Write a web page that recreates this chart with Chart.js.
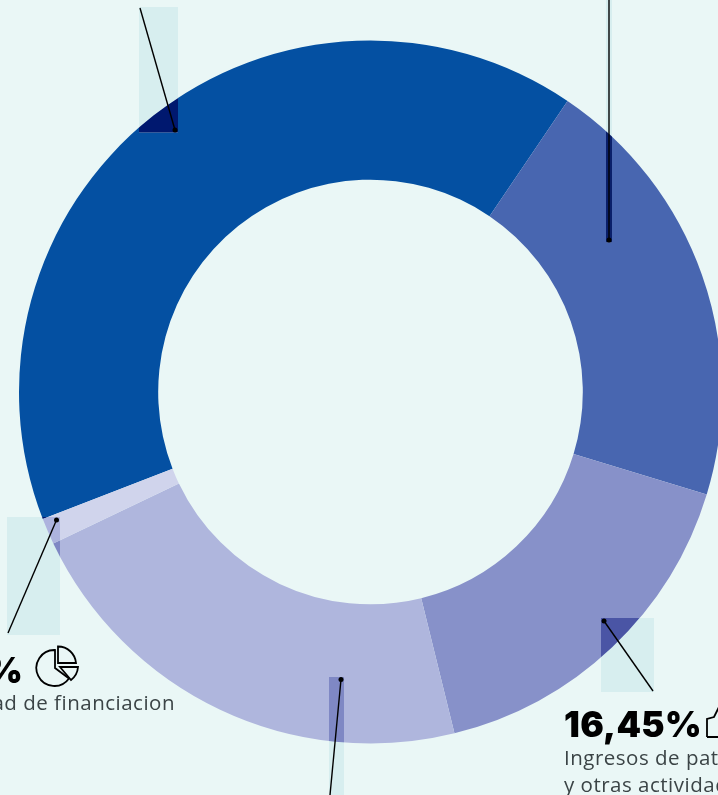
<!DOCTYPE html>
<html lang="es">
<head>
<meta charset="utf-8">
<title>Ingresos</title>
<style>
  html, body { margin: 0; padding: 0; background: #eaf7f6; }
  #lienzo { position: relative; width: 718px; height: 795px; overflow: hidden; background: #eaf7f6; }
  #grafico { position: absolute; left: 0; top: 0; }
  .cifra { position: absolute; font-family: Inter, sans-serif; font-weight: 900; font-size: 35px; line-height: 40px; color: #000; white-space: nowrap; letter-spacing: 0.3px; }
  .texto { position: absolute; font-family: "Open Sans", sans-serif; font-size: 20.5px; line-height: 25px; color: #3b4446; white-space: nowrap; letter-spacing: 0.5px; }
  svg { position: absolute; fill: none; stroke: #000; stroke-width: 1.8; }
</style>
</head>
<body>
<div id="lienzo">
  <canvas id="grafico" width="718" height="795"></canvas>
  <div class="cifra" style="right:695px;top:650px">1,20%</div>
  <svg style="left:35px;top:644px" width="46" height="46" viewBox="35 644 46 46">
    <path d="M55 650 A18 18 0 1 0 69 678.5 L55 668 Z"/>
    <path d="M58 646.5 A18 18 0 0 1 76 663 L58 663 Z"/>
    <path d="M60 667 L78 667 A18 18 0 0 1 71 680 Z"/>
  </svg>
  <div class="texto" style="right:543px;top:690px">Necesidad de financiacion</div>
  <div class="cifra" style="left:564px;top:704px">16,45%</div>
  <svg style="left:700px;top:700px" width="30" height="45" viewBox="700 700 30 45">
    <path d="M707 737 L707 719 L714 717 L719 707 M707 737 L722 737"/>
  </svg>
  <div class="texto" style="left:564px;top:745px">Ingresos de patrimonio</div>
  <div class="texto" style="left:564px;top:772px">y otras actividades</div>
</div>
<script src="https://cdn.jsdelivr.net/npm/chart.js@4/dist/chart.umd.min.js"></script>
<script>
// valores, en %
const categorias = ['Subvenciones', 'Cuotas', 'Ingresos de patrimonio y otras actividades', 'Ventas', 'Necesidad de financiacion'];
const valores = [40.36, 20.24, 16.45, 21.75, 1.2];
const colores = ['#0450a2', '#4866b0', '#8791c9', '#afb6dd', '#d0d4ec'];
// color de los recuadros encima de cada porcion
const sombras = ['#00186f', '#0a1f6a', '#4a55a5', '#7f88c4', '#adb3de'];

// recuadros y lineas de las etiquetas
const etiquetas = [
  { caja: [139, 7, 39, 125.5], desde: [140, 8], punto: [175, 130] },
  { caja: [606, 0, 6, 242.5], desde: [609, 0], punto: [609, 240] },
  { caja: [329, 677, 15, 118], desde: [330, 795], punto: [341, 679.5] },
  { caja: [601, 618, 53, 74], desde: [653, 691], punto: [604, 621] },
  { caja: [7, 517, 53, 118], desde: [8, 633], punto: [56.5, 520] }
];

const pluginEtiquetas = {
  id: 'etiquetas',
  afterDatasetsDraw(chart) {
    const ctx = chart.ctx;
    const arcos = chart.getDatasetMeta(0).data;
    etiquetas.forEach(function (e) {
      ctx.save();
      ctx.fillStyle = '#d7eeef';
      ctx.fillRect(e.caja[0], e.caja[1], e.caja[2], e.caja[3]);
      arcos.forEach(function (a, i) {
        ctx.save();
        ctx.beginPath();
        ctx.arc(a.x, a.y, a.outerRadius, a.startAngle, a.endAngle);
        ctx.arc(a.x, a.y, a.innerRadius, a.endAngle, a.startAngle, true);
        ctx.closePath();
        ctx.clip();
        ctx.fillStyle = sombras[i];
        ctx.fillRect(e.caja[0], e.caja[1], e.caja[2], e.caja[3]);
        ctx.restore();
      });
      ctx.strokeStyle = '#000';
      ctx.lineWidth = 1.4;
      ctx.beginPath();
      ctx.moveTo(e.desde[0], e.desde[1]);
      ctx.lineTo(e.punto[0], e.punto[1]);
      ctx.stroke();
      ctx.fillStyle = '#000';
      ctx.beginPath();
      ctx.arc(e.punto[0], e.punto[1], 2.5, 0, Math.PI * 2);
      ctx.fill();
      ctx.restore();
    });
  }
};

new Chart(document.getElementById('grafico'), {
  type: 'doughnut',
  data: {
    labels: categorias,
    datasets: [{
      data: valores,
      backgroundColor: colores,
      borderWidth: 0,
      radius: 351.5
    }]
  },
  options: {
    responsive: false,
    animation: false,
    cutout: '60.4%',
    rotation: -111.2,
    layout: { padding: { left: 23, right: 0, top: 0, bottom: 11 } },
    plugins: { legend: { display: false }, tooltip: { enabled: false } }
  },
  plugins: [pluginEtiquetas]
});
</script>
</body>
</html>
